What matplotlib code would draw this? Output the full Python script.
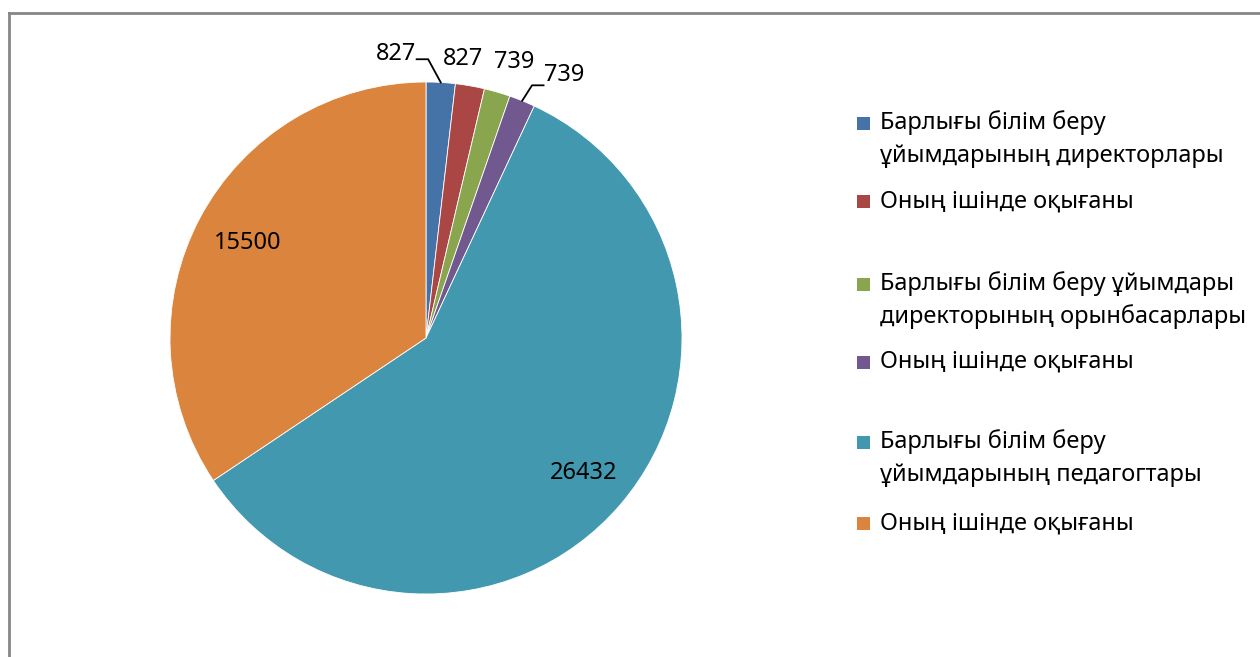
import numpy as np
import matplotlib
matplotlib.use('Agg')
import matplotlib.pyplot as plt
from matplotlib.patches import Rectangle
from matplotlib.lines import Line2D

plt.rcParams['font.family'] = ['Noto Sans', 'DejaVu Sans']

# data
labels = ['Барлығы білім беру\nұйымдарының директорлары',
          'Оның ішінде оқығаны',
          'Барлығы білім беру ұйымдары\nдиректорының орынбасарлары',
          'Оның ішінде оқығаны',
          'Барлығы білім беру\nұйымдарының педагогтары',
          'Оның ішінде оқығаны']
values = [827, 827, 739, 739, 26432, 15500]
colors = ['#4572A7', '#AA4643', '#89A54E', '#71588F', '#4198AF', '#DB843D']

W, H = 1260, 657
fig = plt.figure(figsize=(W / 100, H / 100), dpi=100)

# chart frame (left + top edges visible)
fig.add_artist(Line2D([9 / W, 9 / W], [0, 1 - 13 / H], color='#868686', lw=2))
fig.add_artist(Line2D([9 / W, 1], [1 - 13 / H, 1 - 13 / H], color='#868686', lw=2))

# pie axes: centre (426, 338) px, radius 256 px
cx, cy, R = 426, 338, 256
ax = fig.add_axes([(cx - R) / W, (H - cy - R) / H, 2 * R / W, 2 * R / H])
wedges, _ = ax.pie(values, colors=colors, startangle=90, counterclock=False,
                   radius=1, wedgeprops=dict(edgecolor='white', linewidth=0.6))
ax.set_xlim(-1, 1)
ax.set_ylim(-1, 1)
ax.axis('off')

# data label placement (clockwise degrees from top, radius) and leader flag
label_pos = [(-6.0, 1.115), (7.5, 1.10), (17.7, 1.13), (27.7, 1.16), (130.6, 0.81), (298.1, 0.79)]
leader = [True, False, False, True, False, False]
fs = 17
for w, v, (ang, r), ld in zip(wedges, values, label_pos, leader):
    a = np.deg2rad(ang)
    tx, ty = r * np.sin(a), r * np.cos(a)
    ax.text(tx, ty, str(v), ha='center', va='center', fontsize=fs, clip_on=False)
    if ld:
        mid = np.deg2rad((w.theta1 + w.theta2) / 2)
        ex, ey = np.cos(mid), np.sin(mid)
        if tx < ex:
            # label to the left
            hx = tx + 0.08
            ax.plot([hx, hx + 0.045, ex], [ty - 0.02, ty - 0.02, ey], color='black', lw=1.3,
                    clip_on=False)
        else:
            hx = tx - 0.08
            ax.plot([hx, hx - 0.045, ex], [ty - 0.04, ty - 0.04, ey], color='black', lw=1.3,
                    clip_on=False)

# legend
leg_y = [123, 201, 284, 362, 442, 523]
line_gap = 33
for lab, col, y in zip(labels, colors, leg_y):
    fig.add_artist(Rectangle((857 / W, 1 - (y + 7) / H), 13 / W, 13 / H,
                             facecolor=col, edgecolor='none', transform=fig.transFigure))
    for i, line in enumerate(lab.split('\n')):
        fig.text(880 / W, 1 - (y + i * line_gap) / H, line, fontsize=fs,
                 ha='left', va='center')

fig.savefig('out.png', dpi=100)
